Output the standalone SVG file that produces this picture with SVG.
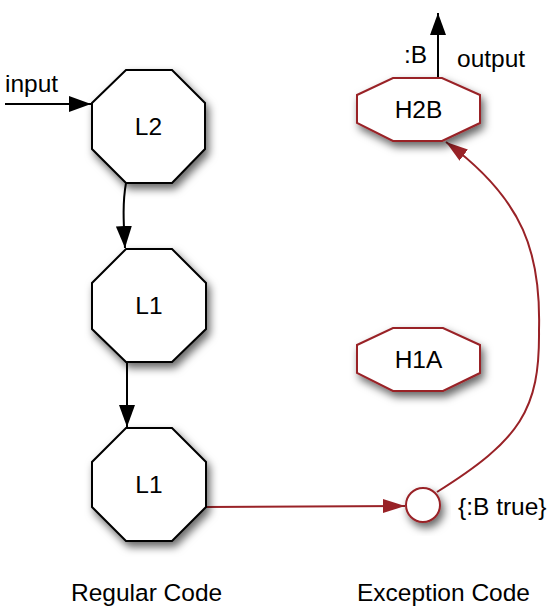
<svg xmlns="http://www.w3.org/2000/svg" width="552" height="607" viewBox="0 0 552 607">
  <style>
    text { font-family: "Liberation Sans", Arial, sans-serif; font-size: 24.5px; fill: #000; }
    .lbl { text-anchor: middle; }
    .oct { fill: #fff; stroke: #000; stroke-width: 2; filter: url(#shadow); }
    .hoct { fill: #fff; stroke: #992227; stroke-width: 2; filter: url(#shadow); }
    .blk { fill: none; stroke: #000; stroke-width: 2; }
    .red { fill: none; stroke: #992227; stroke-width: 2; }
  </style>
  <defs>
    <filter id="shadow" x="-30%" y="-30%" width="160%" height="170%">
      <feDropShadow dx="3" dy="5" stdDeviation="4" flood-color="#000" flood-opacity="0.6"/>
    </filter>
    <marker id="ab" markerWidth="22" markerHeight="16" refX="22" refY="8" orient="auto" markerUnits="userSpaceOnUse">
      <path d="M0,0 L22,8 L0,16 Z" fill="#000"/>
    </marker>
    <marker id="ar" markerWidth="22" markerHeight="16" refX="22" refY="8" orient="auto" markerUnits="userSpaceOnUse">
      <path d="M0,1 L22,8 L0,15 Z" fill="#992227"/>
    </marker>
  </defs>

  <g id="connectors">
    <line class="blk" x1="5" y1="104" x2="91" y2="104" marker-end="url(#ab)"/>
    <path class="blk" d="M126,183 C122,205 124,228 125,248" marker-end="url(#ab)"/>
    <line class="blk" x1="127" y1="362" x2="127" y2="427" marker-end="url(#ab)"/>
    <line class="blk" x1="438" y1="78" x2="438" y2="13" marker-end="url(#ab)"/>
    <line class="red" x1="206" y1="507" x2="405" y2="506" marker-end="url(#ar)"/>
    <path class="red" d="M437,492 C520,440 540,410 539,330 C541,255 525,200 446,142" marker-end="url(#ar)"/>
  </g>

  <g id="node-L2">
    <polygon class="oct" points="126,70 172,70 205,103 205,149 172,183 126,183 92,149 92,103"/>
    <text class="lbl" x="148.5" y="135">L2</text>
  </g>
  <g id="node-L1a">
    <polygon class="oct" points="126,249 172,249 206,283 206,329 172,362 126,362 92,329 92,283"/>
    <text class="lbl" x="149" y="314">L1</text>
  </g>
  <g id="node-L1b">
    <polygon class="oct" points="126,428 172,428 206,462 206,507 172,541 126,541 92,507 92,462"/>
    <text class="lbl" x="149" y="493">L1</text>
  </g>
  <g id="node-H2B">
    <polygon class="hoct" points="393,78 442,78 480,95 480,123 442,141 393,141 357,123 357,95"/>
    <text class="lbl" x="418.5" y="118">H2B</text>
  </g>
  <g id="node-H1A">
    <polygon class="hoct" points="393,328 443,328 480,345 480,373 443,391 393,391 357,373 357,345"/>
    <text class="lbl" x="418.5" y="368">H1A</text>
  </g>
  <g id="node-cond">
    <circle cx="423" cy="505" r="17" fill="#fff" stroke="#992227" stroke-width="2" filter="url(#shadow)"/>
  </g>

  <g id="labels">
    <text x="5" y="92">input</text>
    <text x="404" y="63">:B</text>
    <text x="457" y="67">output</text>
    <text x="458" y="515">{:B true}</text>
    <text x="71" y="601">Regular Code</text>
    <text x="357" y="601">Exception Code</text>
  </g>
</svg>
